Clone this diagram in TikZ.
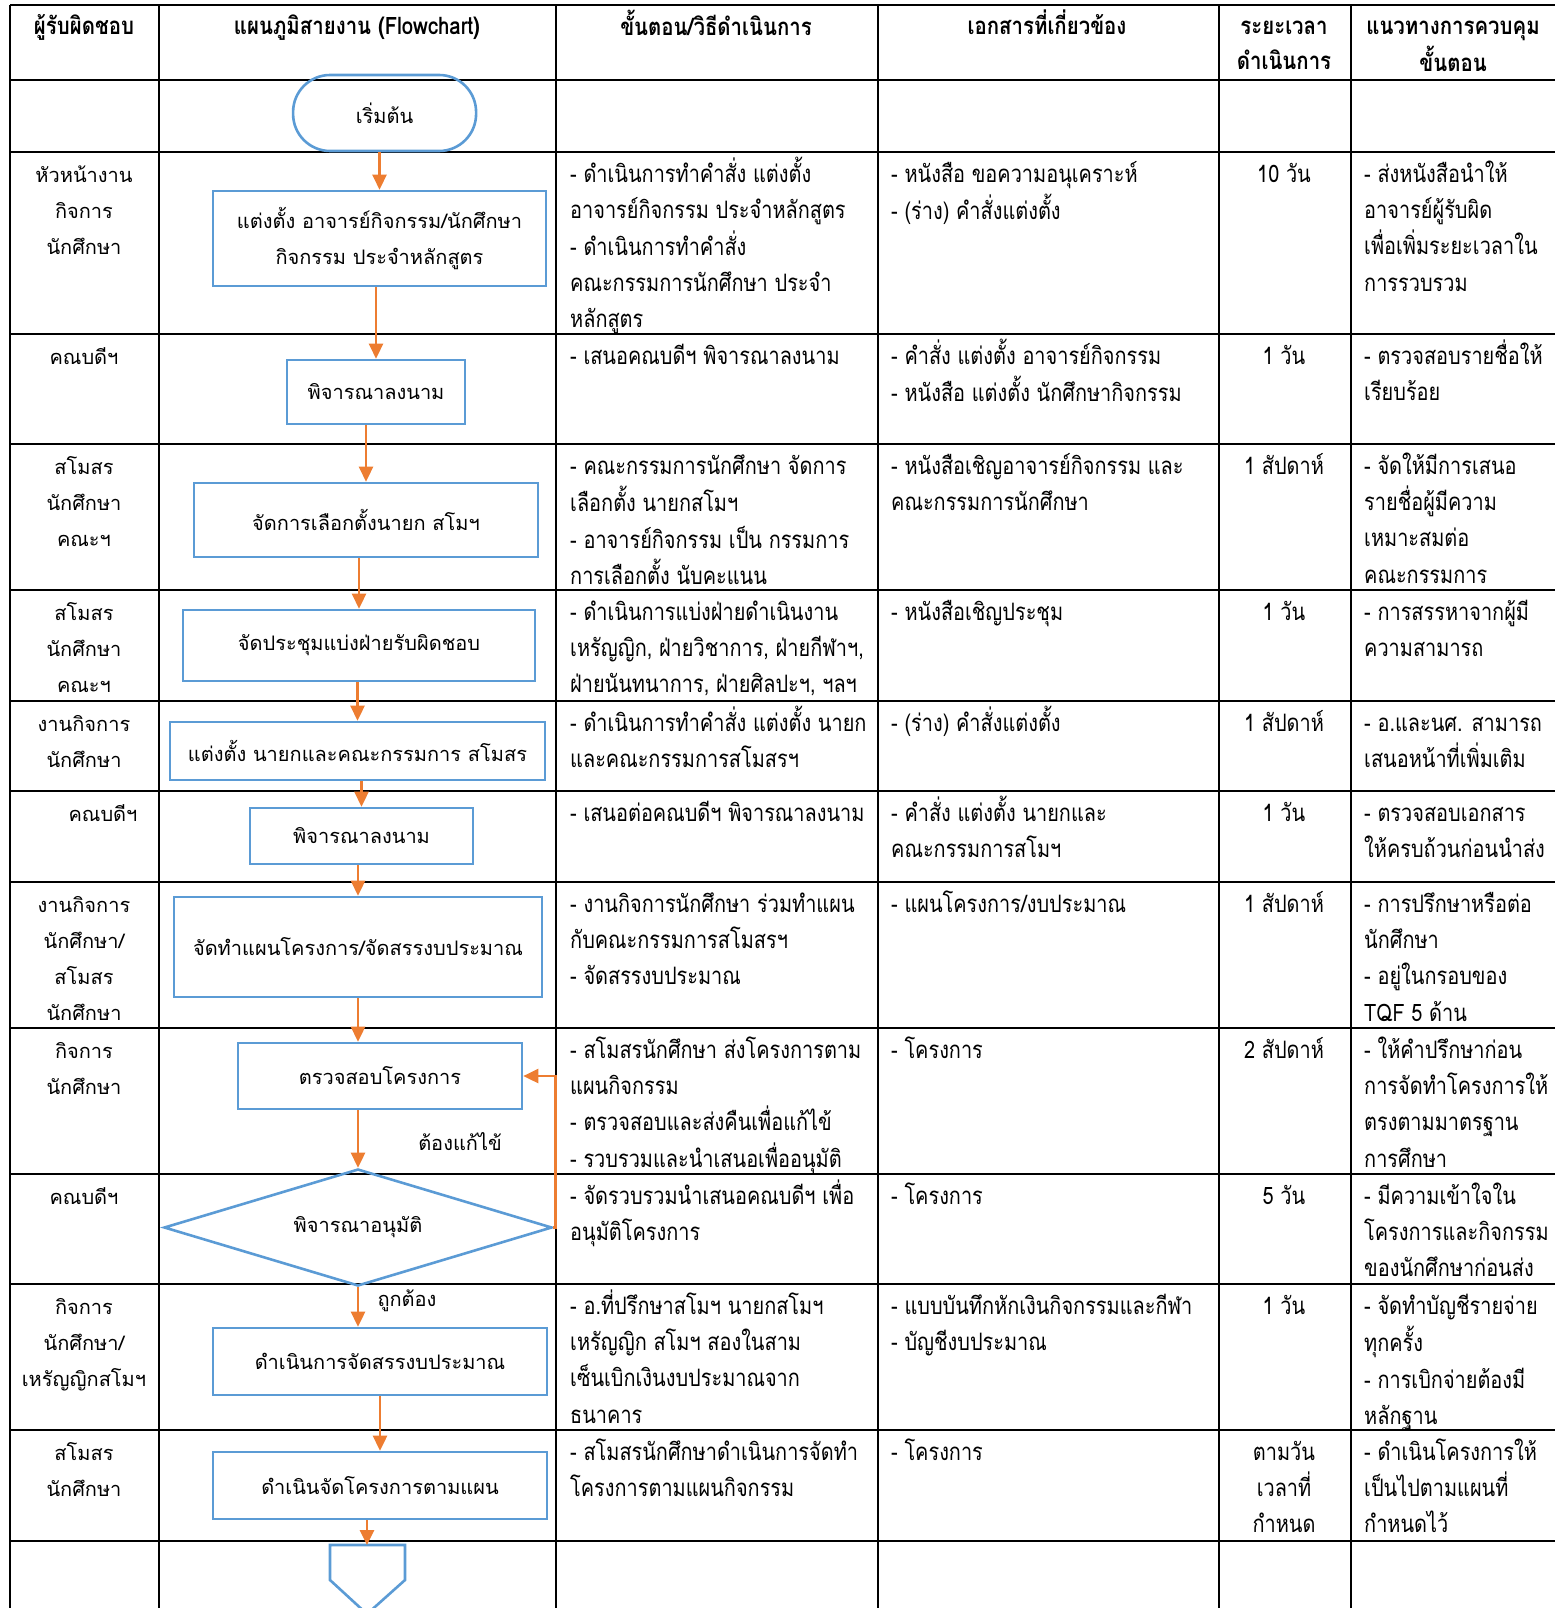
\documentclass[tikz,border=0pt]{standalone}
\usepackage{fontspec}
\newfontfamily\loopfont[Script=Thai]{Loma}
\newfontfamily\narrowfont[Script=Thai,FakeStretch=0.83]{Loma}
\newfontfamily\headfont[Script=Thai,FakeStretch=0.85]{Loma}
\usetikzlibrary{arrows.meta,shapes.geometric,positioning}
\definecolor{boxblue}{HTML}{5B9BD5}
\definecolor{floworange}{HTML}{ED7D31}

\begin{document}
\begin{tikzpicture}[
x=1pt,y=-1pt,
grid/.style={
  line width=2.6pt,
  draw=black
},
boxline/.style={
  draw=boxblue,
  line width=2.6pt
},
proc/.style={
  boxline,
  rectangle,
  inner sep=0pt,
  align=center,
  font=\loopfont\fontsize{20}{36}\selectfont
},
term/.style={proc,rounded corners=37pt},
deci/.style={proc,diamond,shape aspect=3.3},
flow/.style={
  draw=floworange,
  line width=2.6pt,
  -{Triangle[length=15pt,width=14pt]}
},
who/.style={
  anchor=north,
  align=center,
  inner sep=0pt,
  font=\loopfont\fontsize{20}{36}\selectfont
},
head/.style={
  anchor=north,
  align=center,
  inner sep=0pt,
  font=\headfont\bfseries\fontsize{24}{35}\selectfont
},
cell/.style={
  anchor=north west,
  align=left,
  inner sep=0pt,
  font=\narrowfont\fontsize{24}{36.2}\selectfont
},
timecell/.style={cell,anchor=north,align=center}
]
\useasboundingbox (0,0) rectangle (1555,1608);

% table grid
\foreach \y in {5,80,152,334,444,590,701,791,882,1028,1174,1284,1430,1541}
  \draw[grid] (10,\y) -- (1555,\y);
\foreach \x in {10,159,556,878,1219,1351}
  \draw[grid] (\x,5) -- (\x,1608);

% header
\node[head] (h1) at (84,10) {\strut ผู้รับผิดชอบ};
\node[head] (h2) at (357,10) {\strut แผนภูมิสายงาน (Flowchart)};
\node[head] (h3) at (716,10) {\strut ขั้นตอน/วิธีดำเนินการ};
\node[head] (h4) at (1047,10) {\strut เอกสารที่เกี่ยวข้อง};
\node[head] (h5) at (1284,10) {\strut ระยะเวลา\\ดำเนินการ};
\node[head] (h6) at (1453,10) {\strut แนวทางการควบคุม\\ขั้นตอน};

% flowchart
\node[term,minimum width=183,minimum height=76] (start) at (384.6,113) {เริ่มต้น};
\node[proc,minimum width=333,minimum height=95] (b1) at (379.5,238.5)
  {แต่งตั้ง อาจารย์กิจกรรม/นักศึกษา\\กิจกรรม ประจำหลักสูตร};
\node[proc,minimum width=178,minimum height=64] (b2) at (376,392) {พิจารณาลงนาม};
\node[proc,minimum width=344,minimum height=74] (b3) at (366,520) {จัดการเลือกตั้งนายก สโมฯ};
\node[proc,minimum width=352,minimum height=71] (b4) at (359,645.5) {จัดประชุมแบ่งฝ่ายรับผิดชอบ};
\node[proc,minimum width=375,minimum height=58] (b5) at (357.5,751) {แต่งตั้ง นายกและคณะกรรมการ สโมสร};
\node[proc,minimum width=223,minimum height=56] (b6) at (361.5,836) {พิจารณาลงนาม};
\node[proc,minimum width=368,minimum height=100] (b7) at (358,947) {จัดทำแผนโครงการ/จัดสรรงบประมาณ};
\node[proc,minimum width=284,minimum height=66] (b8) at (380,1076) {ตรวจสอบโครงการ};
\node[deci,minimum width=388,minimum height=117] (appr) at (358,1227.5) {พิจารณาอนุมัติ};
\node[proc,minimum width=334,minimum height=67] (b9) at (380,1361.5) {ดำเนินการจัดสรรงบประมาณ};
\node[proc,minimum width=334,minimum height=67] (b10) at (380,1485.5) {ดำเนินจัดโครงการตามแผน};
\coordinate (endc) at (367,1545);
\draw[boxline] (330,1545) -- (405,1545) -- (405,1580) -- (367,1614) -- (330,1580) -- cycle;

\draw[flow] (start.south -| b1) -- (b1.north);
\draw[flow] (b1.south -| b2) -- (b2.north);
\draw[flow] (b2.south -| b3) -- (b3.north);
\draw[flow] (b3.south -| b4) -- (b4.north);
\draw[flow] (b4.south -| b5) -- (b5.north);
\draw[flow] (b5.south -| b6) -- (b6.north);
\draw[flow] (b6.south -| b7) -- (b7.north);
\draw[flow] (b7.south) -- (b7.south |- b8.north);
\draw[flow] (b8.south -| appr) -- (appr.north);
\draw[flow] (appr.south) -- (appr.south |- b9.north);
\draw[flow] (b9.south) -- (b10.north);
\draw[flow] (b10.south -| endc) -- (endc);
\draw[flow] (appr.east) -- ++(2,0) |- (b8.east);

\node[font=\loopfont\fontsize{20}{36}\selectfont] (fix) at (460,1142) {ต้องแก้ไข้};
\node[font=\loopfont\fontsize{20}{36}\selectfont] (ok) at (407,1301) {ถูกต้อง};

% responsible
\node[who] (w1) at (84,157) {\strut หัวหน้างาน\\กิจการ\\นักศึกษา};
\node[who] (w2) at (84,339) {\strut คณบดีฯ};
\node[who] (w3) at (84,449) {\strut สโมสร\\นักศึกษา\\คณะฯ};
\node[who] (w4) at (84,595) {\strut สโมสร\\นักศึกษา\\คณะฯ};
\node[who] (w5) at (84,706) {\strut งานกิจการ\\นักศึกษา};
\node[who] (w6) at (103,796) {\strut คณบดีฯ};
\node[who] (w7) at (84,887) {\strut งานกิจการ\\นักศึกษา/\\สโมสร\\นักศึกษา};
\node[who] (w8) at (84,1033) {\strut กิจการ\\นักศึกษา};
\node[who] (w9) at (84,1179) {\strut คณบดีฯ};
\node[who] (w10) at (84,1289) {\strut กิจการ\\นักศึกษา/\\เหรัญญิกสโมฯ};
\node[who] (w11) at (84,1435) {\strut สโมสร\\นักศึกษา};

% steps
\node[cell] (s1) at (570,157) {\strut - ดำเนินการทำคำสั่ง แต่งตั้ง\\อาจารย์กิจกรรม ประจำหลักสูตร\\- ดำเนินการทำคำสั่ง\\คณะกรรมการนักศึกษา ประจำ\\หลักสูตร};
\node[cell] (s2) at (570,339) {\strut - เสนอคณบดีฯ พิจารณาลงนาม};
\node[cell] (s3) at (570,449) {\strut - คณะกรรมการนักศึกษา จัดการ\\เลือกตั้ง นายกสโมฯ\\- อาจารย์กิจกรรม เป็น กรรมการ\\การเลือกตั้ง นับคะแนน};
\node[cell] (s4) at (570,595) {\strut - ดำเนินการแบ่งฝ่ายดำเนินงาน\\เหรัญญิก, ฝ่ายวิชาการ, ฝ่ายกีฬาฯ,\\ฝ่ายนันทนาการ, ฝ่ายศิลปะฯ, ฯลฯ};
\node[cell] (s5) at (570,706) {\strut - ดำเนินการทำคำสั่ง แต่งตั้ง นายก\\และคณะกรรมการสโมสรฯ};
\node[cell] (s6) at (570,796) {\strut - เสนอต่อคณบดีฯ พิจารณาลงนาม};
\node[cell] (s7) at (570,887) {\strut - งานกิจการนักศึกษา ร่วมทำแผน\\กับคณะกรรมการสโมสรฯ\\- จัดสรรงบประมาณ};
\node[cell] (s8) at (570,1033) {\strut - สโมสรนักศึกษา ส่งโครงการตาม\\แผนกิจกรรม\\- ตรวจสอบและส่งคืนเพื่อแก้ไข้\\- รวบรวมและนำเสนอเพื่ออนุมัติ};
\node[cell] (s9) at (570,1179) {\strut - จัดรวบรวมนำเสนอคณบดีฯ เพื่อ\\อนุมัติโครงการ};
\node[cell] (s10) at (570,1289) {\strut - อ.ที่ปรึกษาสโมฯ นายกสโมฯ\\เหรัญญิก สโมฯ สองในสาม\\เซ็นเบิกเงินงบประมาณจาก\\ธนาคาร};
\node[cell] (s11) at (570,1435) {\strut - สโมสรนักศึกษาดำเนินการจัดทำ\\โครงการตามแผนกิจกรรม};

% documents
\node[cell] (doc1) at (891,157) {\strut - หนังสือ ขอความอนุเคราะห์\\- (ร่าง) คำสั่งแต่งตั้ง};
\node[cell] (doc2) at (891,339) {\strut - คำสั่ง แต่งตั้ง อาจารย์กิจกรรม\\- หนังสือ แต่งตั้ง นักศึกษากิจกรรม};
\node[cell] (doc3) at (891,449) {\strut - หนังสือเชิญอาจารย์กิจกรรม และ\\คณะกรรมการนักศึกษา};
\node[cell] (doc4) at (891,595) {\strut - หนังสือเชิญประชุม};
\node[cell] (doc5) at (891,706) {\strut - (ร่าง) คำสั่งแต่งตั้ง};
\node[cell] (doc6) at (891,796) {\strut - คำสั่ง แต่งตั้ง นายกและ\\คณะกรรมการสโมฯ};
\node[cell] (doc7) at (891,887) {\strut - แผนโครงการ/งบประมาณ};
\node[cell] (doc8) at (891,1033) {\strut - โครงการ};
\node[cell] (doc9) at (891,1179) {\strut - โครงการ};
\node[cell] (doc10) at (891,1289) {\strut - แบบบันทึกหักเงินกิจกรรมและกีฬา\\- บัญชีงบประมาณ};
\node[cell] (doc11) at (891,1435) {\strut - โครงการ};

% time
\node[timecell] (t1) at (1284,157) {\strut 10 วัน};
\node[timecell] (t2) at (1284,339) {\strut 1 วัน};
\node[timecell] (t3) at (1284,449) {\strut 1 สัปดาห์};
\node[timecell] (t4) at (1284,595) {\strut 1 วัน};
\node[timecell] (t5) at (1284,706) {\strut 1 สัปดาห์};
\node[timecell] (t6) at (1284,796) {\strut 1 วัน};
\node[timecell] (t7) at (1284,887) {\strut 1 สัปดาห์};
\node[timecell] (t8) at (1284,1033) {\strut 2 สัปดาห์};
\node[timecell] (t9) at (1284,1179) {\strut 5 วัน};
\node[timecell] (t10) at (1284,1289) {\strut 1 วัน};
\node[timecell] (t11) at (1284,1435) {\strut ตามวัน\\เวลาที่\\กำหนด};

% control
\node[cell] (c1) at (1364,157) {\strut - ส่งหนังสือนำให้\\อาจารย์ผู้รับผิด\\เพื่อเพิ่มระยะเวลาใน\\การรวบรวม};
\node[cell] (c2) at (1364,339) {\strut - ตรวจสอบรายชื่อให้\\เรียบร้อย};
\node[cell] (c3) at (1364,449) {\strut - จัดให้มีการเสนอ\\รายชื่อผู้มีความ\\เหมาะสมต่อ\\คณะกรรมการ};
\node[cell] (c4) at (1364,595) {\strut - การสรรหาจากผู้มี\\ความสามารถ};
\node[cell] (c5) at (1364,706) {\strut - อ.และนศ. สามารถ\\เสนอหน้าที่เพิ่มเติม};
\node[cell] (c6) at (1364,796) {\strut - ตรวจสอบเอกสาร\\ให้ครบถ้วนก่อนนำส่ง};
\node[cell] (c7) at (1364,887) {\strut - การปรึกษาหรือต่อ\\นักศึกษา\\- อยู่ในกรอบของ\\TQF 5 ด้าน};
\node[cell] (c8) at (1364,1033) {\strut - ให้คำปรึกษาก่อน\\การจัดทำโครงการให้\\ตรงตามมาตรฐาน\\การศึกษา};
\node[cell] (c9) at (1364,1179) {\strut - มีความเข้าใจใน\\โครงการและกิจกรรม\\ของนักศึกษาก่อนส่ง};
\node[cell] (c10) at (1364,1289) {\strut - จัดทำบัญชีรายจ่าย\\ทุกครั้ง\\- การเบิกจ่ายต้องมี\\หลักฐาน};
\node[cell] (c11) at (1364,1435) {\strut - ดำเนินโครงการให้\\เป็นไปตามแผนที่\\กำหนดไว้};
\end{tikzpicture}
\end{document}
